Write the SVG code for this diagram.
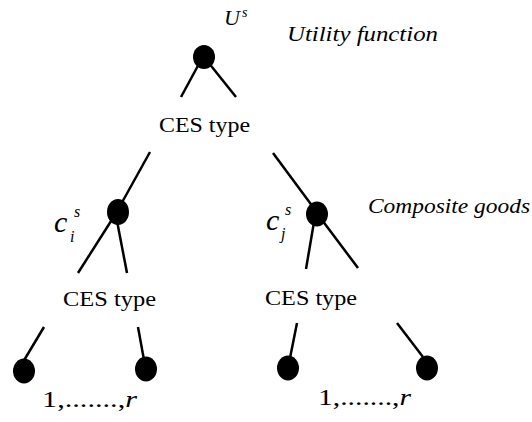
<svg xmlns="http://www.w3.org/2000/svg" width="532" height="422" viewBox="0 0 532 422">
<style>
.bg{fill:#ffffff}
.edge{stroke:#000;stroke-width:2.5;fill:none;stroke-linecap:butt}
.dot{fill:#000}
text{font-family:'Liberation Serif','DejaVu Serif',Tinos,'Nimbus Roman','FreeSerif','Times New Roman',Times,serif;fill:#000}
.it{font-style:italic}
.ces{font-size:21px}
.lab{font-size:20px}
.seq{font-size:24px}
</style>
<rect class="bg" x="0" y="0" width="532" height="422"/>
<g id="connectors">
<line class="edge" x1="200" y1="62" x2="181" y2="97"/>
<line class="edge" x1="208" y1="62" x2="236" y2="97"/>
<line class="edge" x1="150" y1="152" x2="120" y2="206"/>
<line class="edge" x1="273" y1="153" x2="313" y2="207"/>
<line class="edge" x1="113" y1="218" x2="78" y2="273"/>
<line class="edge" x1="117" y1="221" x2="127" y2="273"/>
<line class="edge" x1="314" y1="222" x2="306" y2="269"/>
<line class="edge" x1="322" y1="220" x2="358" y2="268"/>
<line class="edge" x1="44" y1="327" x2="23" y2="362"/>
<line class="edge" x1="138" y1="327" x2="144" y2="360"/>
<line class="edge" x1="297" y1="323" x2="290" y2="358"/>
<line class="edge" x1="397" y1="323" x2="423" y2="357"/>
</g>
<g id="node-top">
<ellipse class="dot" cx="204" cy="57" rx="11" ry="12"/>
<text class="it" x="224" y="25" font-size="22" font-family="Liberation Serif, serif">U<tspan font-size="14" dx="2" dy="-8">s</tspan></text>
<text class="it lab" x="287" y="41" textLength="151" lengthAdjust="spacingAndGlyphs">Utility function</text>
<text class="ces" x="159" y="132" textLength="91" lengthAdjust="spacingAndGlyphs">CES type</text>
</g>
<g id="node-ci">
<ellipse class="dot" cx="118" cy="212" rx="11" ry="13"/>
<text class="it" x="54" y="232" font-size="30">c<tspan font-size="16" x="74" y="217">s</tspan><tspan font-size="16" x="70" y="242">i</tspan></text>
<text class="ces" x="63" y="306" textLength="93" lengthAdjust="spacingAndGlyphs">CES type</text>
</g>
<g id="node-cj">
<ellipse class="dot" cx="317" cy="214" rx="11" ry="12.5"/>
<text class="it" x="266" y="230" font-size="30">c<tspan font-size="16" x="285" y="215">s</tspan><tspan font-size="16" x="281" y="239">j</tspan></text>
<text class="it lab" x="368" y="213" textLength="162" lengthAdjust="spacingAndGlyphs">Composite goods</text>
<text class="ces" x="265" y="305" textLength="92" lengthAdjust="spacingAndGlyphs">CES type</text>
</g>
<g id="leaf-i1"><ellipse class="dot" cx="24" cy="371" rx="11" ry="12.5"/></g>
<g id="leaf-ir"><ellipse class="dot" cx="146" cy="369" rx="11" ry="12.5"/></g>
<g id="leaf-j1"><ellipse class="dot" cx="288" cy="368" rx="11" ry="12.5"/></g>
<g id="leaf-jr"><ellipse class="dot" cx="427" cy="368" rx="11" ry="12.5"/></g>
<g id="label-i"><text class="seq" x="42" y="407" textLength="95" lengthAdjust="spacingAndGlyphs">1,.......,<tspan font-style="italic">r</tspan></text></g>
<g id="label-j"><text class="seq" x="318" y="405" textLength="93" lengthAdjust="spacingAndGlyphs">1,.......,<tspan font-style="italic">r</tspan></text></g>
</svg>
